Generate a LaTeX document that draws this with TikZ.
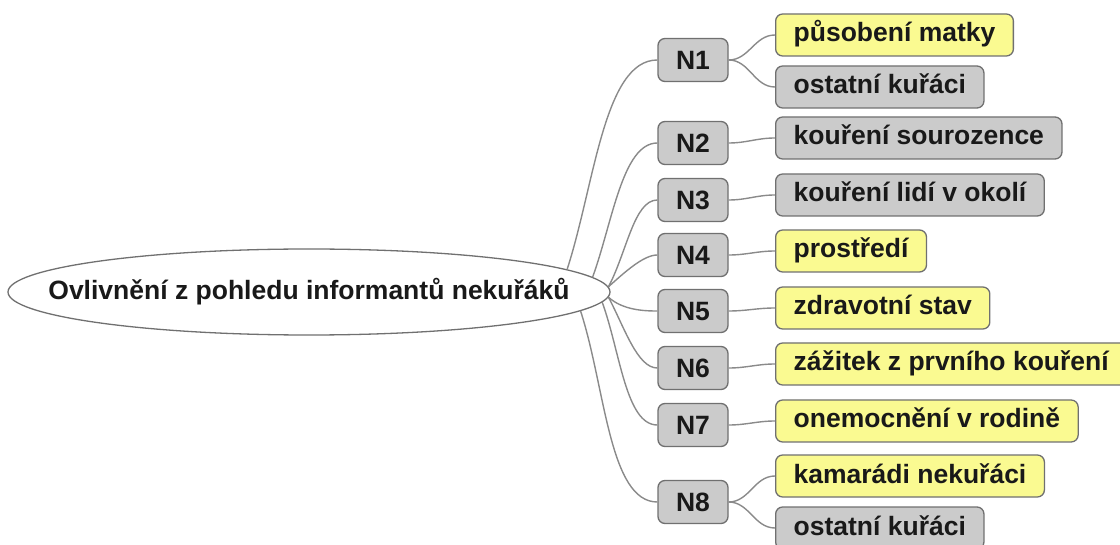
\documentclass[tikz,border=0pt]{standalone}
\usepackage{fontspec}
\setmainfont{Liberation Sans}
\usetikzlibrary{shapes.geometric}
\definecolor{boxgray}{RGB}{203,203,203}
\definecolor{boxyellow}{RGB}{250,250,145}
\definecolor{edgegray}{RGB}{112,112,112}
\definecolor{linkgray}{RGB}{138,138,138}
\definecolor{inkdark}{RGB}{25,25,25}

\begin{document}
\begin{tikzpicture}[x=1pt,y=1pt,
  every node/.style={font=\fontsize{26.5}{30}\selectfont\bfseries, text=inkdark},
  topic/.style={ellipse, draw=edgegray, line width=1.3pt, fill=white,
    minimum width=602pt, minimum height=86pt, inner sep=0pt},
  cat/.style={rectangle, rounded corners=7pt, draw=edgegray, line width=1.3pt,
    fill=boxgray, minimum width=70pt, minimum height=43pt, inner sep=0pt,
    text height=19pt, text depth=0pt},
  leaf/.style={rectangle, rounded corners=7pt, draw=edgegray, line width=1.3pt,
    minimum height=42pt, inner xsep=18pt, inner ysep=0pt, anchor=west,
    text height=19pt, text depth=5pt},
  grayleaf/.style={leaf, fill=boxgray},
  yellowleaf/.style={leaf, fill=boxyellow},
  link/.style={draw=linkgray, line width=1.4pt}]
\useasboundingbox (0,0) rectangle (1120,-545);

% central topic
\node[topic] (root) at (309,-292) {};
\node (roottext) at (root.center) {Ovlivnění z pohledu informantů nekuřáků};

% categories
\node[cat] (n1) at (693,-60)  {N1};
\node[cat] (n2) at (693,-143) {N2};
\node[cat] (n3) at (693,-200) {N3};
\node[cat] (n4) at (693,-255) {N4};
\node[cat] (n5) at (693,-311) {N5};
\node[cat] (n6) at (693,-368) {N6};
\node[cat] (n7) at (693,-425) {N7};
\node[cat] (n8) at (693,-502) {N8};

% leaves
\node[yellowleaf] (l1a) at (775,-35)  {působení matky};
\node[grayleaf]   (l1b) at (775,-87)  {ostatní kuřáci};
\node[grayleaf]   (l2)  at (775,-138) {kouření sourozence};
\node[grayleaf]   (l3)  at (775,-195) {kouření lidí v okolí};
\node[yellowleaf] (l4)  at (775,-251) {prostředí};
\node[yellowleaf] (l5)  at (775,-308) {zdravotní stav};
\node[yellowleaf] (l6)  at (775,-364) {zážitek z prvního kouření};
\node[yellowleaf] (l7)  at (775,-421) {onemocnění v rodině};
\node[yellowleaf] (l8a) at (775,-476) {kamarádi nekuřáci};
\node[grayleaf]   (l8b) at (775,-528) {ostatní kuřáci};

% topic to categories
\draw[link] (root.5.3)  to[out=72,in=180,in looseness=0.6] (n1.west);
\draw[link] (root.3.1)  to[out=70,in=180,in looseness=0.6] (n2.west);
\draw[link] (root.1.9)  to[out=62,in=180,in looseness=0.6] (n3.west);
\draw[link] (root.1.0)  to[out=42,in=180,in looseness=0.6] (n4.west);
\draw[link] (root.-1.0) to[out=-42,in=180,in looseness=0.6] (n5.west);
\draw[link] (root.-1.8) to[out=-62,in=180,in looseness=0.6] (n6.west);
\draw[link] (root.-2.9) to[out=-70,in=180,in looseness=0.6] (n7.west);
\draw[link] (root.-4.9) to[out=-72,in=180,in looseness=0.6] (n8.west);

% categories to leaves
\draw[link] (n1.east) to[out=0,in=180] (l1a.west);
\draw[link] (n1.east) to[out=0,in=180] (l1b.west);
\draw[link] (n2.east) to[out=0,in=180] (l2.west);
\draw[link] (n3.east) to[out=0,in=180] (l3.west);
\draw[link] (n4.east) to[out=0,in=180] (l4.west);
\draw[link] (n5.east) to[out=0,in=180] (l5.west);
\draw[link] (n6.east) to[out=0,in=180] (l6.west);
\draw[link] (n7.east) to[out=0,in=180] (l7.west);
\draw[link] (n8.east) to[out=0,in=180] (l8a.west);
\draw[link] (n8.east) to[out=0,in=180] (l8b.west);
\end{tikzpicture}
\end{document}
